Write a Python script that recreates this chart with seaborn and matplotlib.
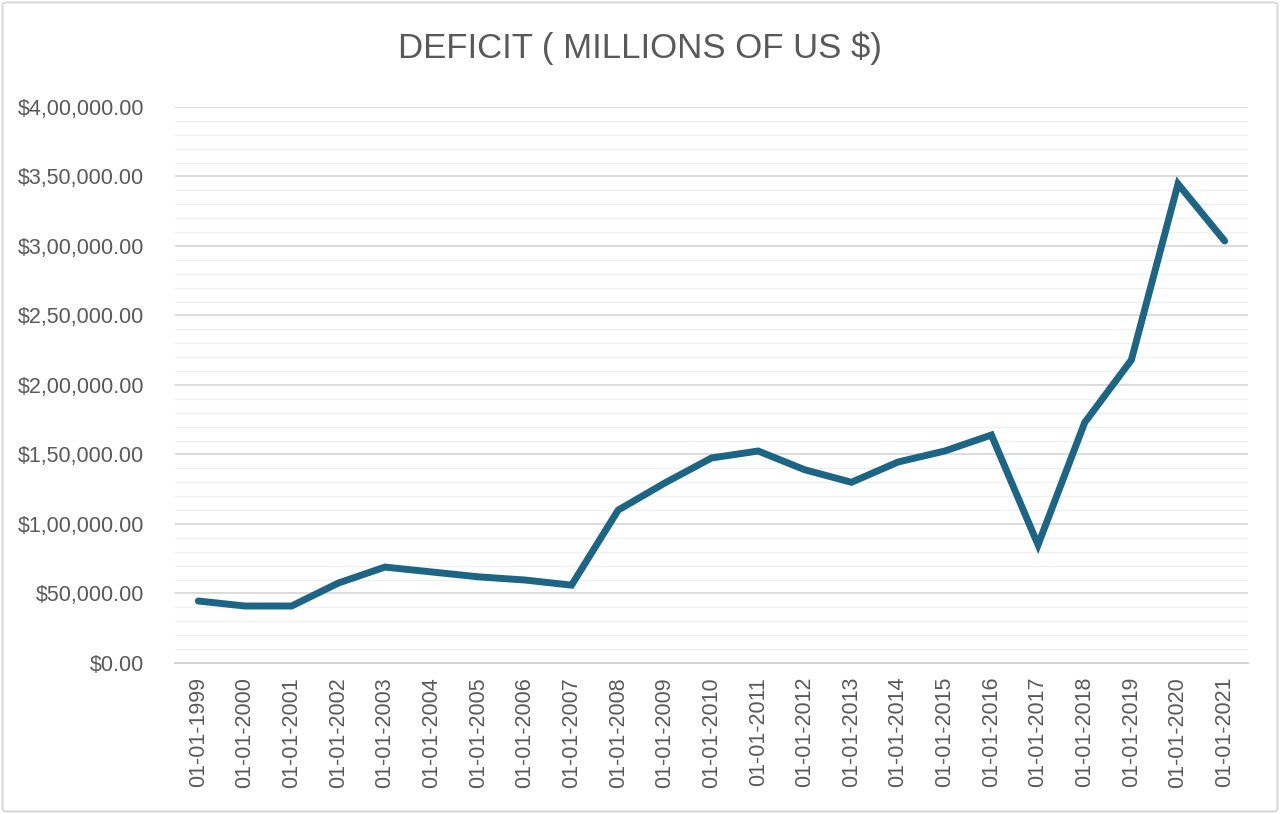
import numpy as np
import pandas as pd
import matplotlib
matplotlib.use("Agg")
import matplotlib.pyplot as plt
import matplotlib.ticker as mticker
from matplotlib.patches import FancyBboxPatch
import seaborn as sns

years = list(range(1999, 2022))
dates = [f"01-01-{y}" for y in years]
deficit = [44600, 41000, 41000, 57500, 69000, 65500, 62000, 59700, 56000,
           110000, 129500, 147500, 152500, 139000, 130000, 144600, 152500,
           164000, 85000, 173000, 218000, 344600, 303600]

df = pd.DataFrame({"date": dates, "deficit": deficit})

sns.set_style("white")
plt.rcParams['font.family'] = ['Liberation Sans', 'DejaVu Sans']

fig = plt.figure(figsize=(12.8, 8.14), dpi=100)
ax = fig.add_axes([0.1367, 0.1855, 0.8383, 0.6831])

sns.lineplot(data=df, x="date", y="deficit", color="#1d6584", linewidth=5,
             ax=ax, sort=False, solid_joinstyle="miter")


def indian_fmt(v, pos):
    v = int(round(v))
    s = str(v)
    if len(s) > 3:
        head, tail = s[:-3], s[-3:]
        parts = []
        while len(head) > 2:
            parts.insert(0, head[-2:])
            head = head[:-2]
        if head:
            parts.insert(0, head)
        s = ",".join(parts) + "," + tail
    return f"${s}.00"


ax.set_ylim(0, 400000)
ax.set_xlim(-0.5, len(dates) - 0.5)
ax.yaxis.set_major_locator(mticker.MultipleLocator(50000))
ax.yaxis.set_minor_locator(mticker.MultipleLocator(10000))
ax.yaxis.set_major_formatter(mticker.FuncFormatter(indian_fmt))
ax.xaxis.set_minor_locator(mticker.FixedLocator(np.arange(-0.5, len(dates), 1.0)))

ax.grid(which="major", axis="y", color="#d9d9d9", linewidth=1.3)
ax.grid(which="minor", axis="y", color="#f0f0f0", linewidth=1.0)
ax.set_axisbelow(True)

for side in ["left", "right", "top"]:
    ax.spines[side].set_visible(False)
ax.spines["bottom"].set_color("#d0d0d0")
ax.spines["bottom"].set_linewidth(1.3)

ax.tick_params(axis="y", which="both", length=0, labelsize=15.5, labelcolor="#595959", pad=22)
ax.tick_params(axis="x", which="major", length=0, labelsize=15.5, labelcolor="#595959",
               labelrotation=90, pad=10)
ax.tick_params(axis="x", which="minor", length=8, color="#d0d0d0", width=1.3)

ax.set_xlabel("")
ax.set_ylabel("")

fig.text(0.5, 0.941, "DEFICIT ( MILLIONS OF US $)", ha="center", va="center",
         fontsize=25, color="#595959")

border = FancyBboxPatch((0.002, 0.003), 0.996, 0.994, boxstyle="round,pad=0,rounding_size=0.004",
                        transform=fig.transFigure, fill=False, edgecolor="#d9d9d9", linewidth=1.5)
fig.patches.append(border)

fig.savefig("out.png", dpi=100)
plt.close(fig)
